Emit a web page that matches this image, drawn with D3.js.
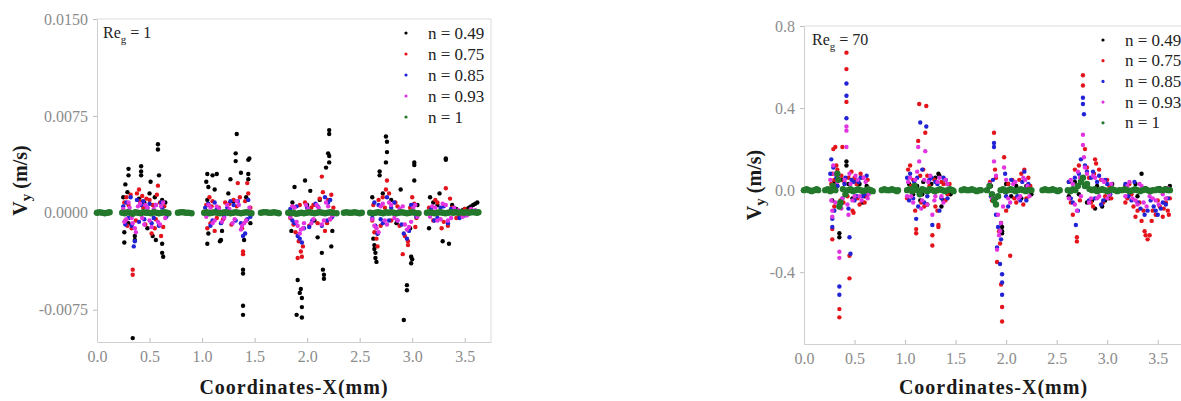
<!DOCTYPE html>
<html>
<head>
<meta charset="utf-8">
<script src="https://cdn.jsdelivr.net/npm/d3@7"></script>
<style>
  body { margin: 0; background: #fff; }
</style>
</head>
<body>
<div id="chart"></div>
<script>
// ---------- data ----------
const legendLabels = ["n = 0.49", "n = 0.75", "n = 0.85", "n = 0.93", "n = 1"];
const xTicks = [0, 0.5, 1, 1.5, 2, 2.5, 3, 3.5];
const yTicksLeft = [-0.0075, 0, 0.0075, 0.015];
const yTicksRight = [-0.4, 0, 0.4, 0.8];

// Re_g = 1  (Vy in m/s)
const leftBlack = [
  [0.27,0.0022],[0.30,0.0029],[0.30,0.0034],[0.29,0.0016],[0.25,0.0012],[0.26,-0.0015],[0.26,-0.0023],[0.30,-0.0008],
  [0.34,-0.0097],[0.36,-0.0018],[0.36,-0.0021],[0.42,0.0036],[0.42,0.0032],[0.42,0.0029],[0.40,0.0011],[0.45,0.0008],
  [0.51,0.0024],[0.50,0.0015],[0.53,-0.0018],[0.56,-0.0021],[0.58,0.0053],[0.58,0.0049],[0.59,0.0029],[0.55,0.0012],
  [0.62,0.0010],[0.62,-0.0024],[0.62,-0.0031],[0.63,-0.0034],[0.65,0.0008],[0.48,-0.0012],
  [1.04,0.0024],[1.05,0.0030],[1.06,0.0020],[1.05,-0.0024],[1.06,-0.0016],[1.05,0.0010],[1.10,0.0029],[1.14,0.0030],
  [1.12,0.0018],[1.17,-0.0022],[1.19,-0.0014],[1.18,-0.0021],[1.27,0.0026],[1.25,0.0015],[1.33,0.0061],[1.32,0.0046],
  [1.32,0.0040],[1.37,0.0031],[1.39,-0.0044],[1.39,-0.0047],[1.39,-0.0072],[1.39,-0.0079],[1.40,-0.0021],[1.45,0.0042],
  [1.44,0.0041],[1.44,0.0030],[1.44,0.0026],[1.42,0.0012],[1.46,-0.0008],[1.30,0.0009],
  [1.85,-0.0014],[1.88,0.0020],[1.86,0.0008],[1.91,-0.0052],[1.90,-0.0079],[1.93,-0.0062],[1.94,-0.0059],[1.95,-0.0066],
  [1.95,-0.0073],[1.95,-0.0081],[1.98,0.0025],[2.03,0.0017],[2.00,0.0006],[2.10,-0.0019],[2.14,-0.0031],[2.15,-0.0044],
  [2.16,-0.0048],[2.16,-0.0051],[2.12,0.0010],[2.18,0.0035],[2.20,0.0046],[2.21,0.0044],[2.21,0.0039],[2.21,0.0064],
  [2.21,0.0061],[2.23,-0.0026],[2.24,-0.0014],[2.07,-0.0006],
  [2.62,0.0012],[2.64,-0.0025],[2.64,-0.0028],[2.65,-0.0031],[2.65,-0.0035],[2.66,-0.0038],[2.63,-0.0020],[2.67,-0.0016],
  [2.69,0.0032],[2.69,0.0029],[2.75,0.0059],[2.76,0.0055],[2.76,0.0047],[2.75,0.0039],[2.72,0.0015],[2.80,0.0010],
  [2.85,-0.0008],[2.89,0.0018],[2.92,-0.0083],[2.95,-0.0056],[2.95,-0.0060],[2.99,-0.0039],[2.99,-0.0034],[3.00,-0.0036],
  [3.02,0.0039],[3.02,0.0037],[3.02,0.0025],[3.05,0.0006],[2.98,-0.0012],
  [3.16,-0.0012],[3.17,0.0012],[3.20,0.0008],[3.26,0.0015],[3.24,0.0006],[3.29,-0.0022],[3.32,0.0042],[3.32,0.0041],
  [3.35,-0.0024],[3.38,0.0006],[3.42,0.0003],[3.45,0.0001],[3.48,0.0002],[3.50,0.0003],[3.52,0.0003],[3.54,0.0004],
  [3.56,0.0005],[3.58,0.0006],[3.60,0.0007],[3.62,0.0008]
];
const leftRed = [
  [0.26,0.0008],[0.28,0.0012],[0.30,0.0006],[0.27,-0.0006],[0.33,-0.0012],[0.34,-0.0044],[0.34,-0.0048],[0.38,0.0015],
  [0.40,0.0018],[0.41,0.0009],[0.44,0.0004],[0.46,-0.0009],[0.50,0.0010],[0.52,-0.0016],[0.55,-0.0012],[0.58,0.0021],
  [0.57,0.0014],[0.61,-0.0018],[0.60,0.0008],[0.64,0.0005],
  [0.29,-0.0010],[0.32,0.0014],[0.37,-0.0006],[0.43,0.0013],[0.47,0.0011],[0.53,0.0006],[0.56,-0.0005],[0.63,-0.0011],
  [1.04,0.0006],[1.07,0.0012],[1.09,0.0005],[1.08,-0.0008],[1.12,-0.0014],[1.16,0.0004],[1.20,-0.0005],[1.26,0.0007],
  [1.30,0.0010],[1.34,0.0023],[1.36,0.0012],[1.38,-0.0012],[1.39,-0.0030],[1.39,-0.0032],[1.43,0.0023],[1.44,0.0015],
  [1.42,-0.0006],[1.46,0.0004],
  [1.05,-0.0012],[1.10,0.0009],[1.14,-0.0004],[1.22,0.0008],[1.28,-0.0009],[1.33,0.0005],[1.41,0.0009],
  [1.84,-0.0004],[1.86,0.0005],[1.89,-0.0015],[1.91,-0.0035],[1.92,-0.0022],[1.94,-0.0030],[1.95,-0.0034],[1.96,-0.0026],
  [1.98,0.0008],[2.02,-0.0010],[2.06,0.0006],[2.10,-0.0008],[2.14,0.0028],[2.15,0.0016],[2.17,-0.0014],[2.20,0.0010],
  [2.22,-0.0005],[2.25,0.0004],
  [1.87,-0.0009],[1.93,0.0006],[2.04,0.0004],[2.12,0.0011],[2.19,-0.0008],[2.23,0.0014],
  [2.62,-0.0006],[2.64,-0.0015],[2.66,-0.0020],[2.68,0.0010],[2.72,0.0012],[2.76,0.0025],[2.75,0.0018],[2.80,-0.0006],
  [2.84,0.0008],[2.88,-0.0010],[2.91,-0.0032],[2.93,-0.0018],[2.96,-0.0025],[2.96,-0.0022],[3.00,0.0012],[3.02,0.0007],
  [3.04,-0.0004],
  [2.63,0.0006],[2.67,-0.0026],[2.70,-0.0010],[2.74,0.0004],[2.78,0.0015],[2.86,0.0005],[2.98,0.0004],[3.03,-0.0011],
  [3.16,0.0004],[3.20,-0.0006],[3.24,0.0008],[3.28,-0.0012],[3.32,0.0019],[3.34,-0.0010],[3.38,0.0004],[3.45,-0.0002],
  [3.55,0.0002],
  [3.22,0.0010],[3.30,-0.0007],[3.36,0.0011],[3.42,-0.0004],[3.50,0.0003],[3.60,0.0001]
];
const leftBlue = [
  [0.25,0.0005],[0.28,0.0008],[0.30,-0.0004],[0.33,-0.0010],[0.35,-0.0026],[0.36,-0.0022],[0.38,0.0010],[0.42,0.0006],
  [0.45,-0.0005],[0.48,0.0004],[0.52,-0.0008],[0.56,0.0006],[0.59,-0.0010],[0.62,0.0004],[0.66,-0.0003],
  [0.27,-0.0009],[0.32,0.0012],[0.40,-0.0007],[0.44,0.0009],[0.50,0.0007],[0.54,-0.0004],[0.61,0.0008],
  [1.03,0.0004],[1.06,0.0007],[1.10,-0.0006],[1.14,0.0003],[1.18,-0.0008],[1.24,0.0004],[1.30,0.0006],[1.34,0.0009],
  [1.37,-0.0008],[1.39,-0.0018],[1.41,-0.0016],[1.44,0.0010],[1.46,-0.0003],
  [1.08,-0.0010],[1.12,0.0008],[1.21,-0.0003],[1.27,0.0009],[1.32,-0.0006],[1.43,-0.0005],
  [1.84,0.0003],[1.88,-0.0008],[1.91,-0.0018],[1.93,-0.0020],[1.95,-0.0023],[1.97,-0.0012],[2.00,0.0004],[2.05,-0.0006],
  [2.10,0.0005],[2.14,-0.0010],[2.17,0.0012],[2.20,0.0008],[2.24,-0.0003],
  [1.86,-0.0006],[1.90,0.0005],[2.02,-0.0011],[2.08,0.0007],[2.19,-0.0006],[2.22,0.0010],
  [2.62,-0.0004],[2.65,-0.0010],[2.68,0.0006],[2.72,-0.0008],[2.76,0.0012],[2.80,0.0004],[2.86,-0.0006],[2.92,-0.0016],
  [2.95,-0.0020],[2.97,-0.0014],[3.01,0.0006],[3.04,-0.0003],
  [2.64,0.0008],[2.67,-0.0016],[2.70,-0.0005],[2.78,-0.0006],[2.83,0.0008],[2.90,-0.0009],[2.99,0.0006],
  [3.18,0.0003],[3.24,-0.0004],[3.30,0.0005],[3.34,-0.0008],[3.40,0.0002],[3.50,-0.0002],
  [3.21,-0.0006],[3.27,0.0004],[3.37,0.0003],[3.45,-0.0004],[3.56,0.0002]
];
const leftMagenta = [
  [0.25,0.0003],[0.28,-0.0005],[0.31,0.0004],[0.34,-0.0008],[0.36,-0.0012],[0.39,0.0005],[0.43,-0.0004],[0.46,0.0006],
  [0.50,-0.0006],[0.54,0.0003],[0.58,-0.0007],[0.61,0.0005],[0.65,-0.0004],
  [0.26,-0.0007],[0.30,0.0008],[0.33,-0.0004],[0.37,-0.0015],[0.41,0.0007],[0.45,-0.0009],[0.48,0.0004],[0.52,-0.0011],
  [0.56,0.0006],[0.60,-0.0009],[0.63,0.0008],
  [1.04,-0.0003],[1.08,0.0004],[1.12,-0.0006],[1.16,0.0003],[1.21,-0.0004],[1.26,0.0003],[1.31,-0.0005],[1.35,0.0006],
  [1.38,-0.0010],[1.42,-0.0006],[1.45,0.0004],
  [1.06,0.0006],[1.10,-0.0008],[1.14,0.0005],[1.19,-0.0007],[1.24,0.0006],[1.29,-0.0008],[1.33,0.0009],[1.37,-0.0013],
  [1.40,-0.0008],
  [1.84,-0.0003],[1.88,0.0004],[1.91,-0.0010],[1.94,-0.0013],[1.97,-0.0008],[2.01,0.0003],[2.06,-0.0005],[2.11,0.0004],
  [2.16,-0.0006],[2.20,0.0005],[2.24,-0.0002],
  [1.86,0.0005],[1.90,-0.0007],[1.93,-0.0016],[1.96,-0.0012],[1.99,0.0006],[2.04,-0.0008],[2.09,0.0006],[2.14,-0.0009],
  [2.18,0.0008],[2.22,-0.0005],
  [2.62,-0.0005],[2.66,-0.0012],[2.70,0.0005],[2.74,-0.0006],[2.78,0.0008],[2.83,-0.0004],[2.88,0.0003],[2.93,-0.0009],
  [2.97,-0.0011],[3.01,0.0004],[3.05,-0.0003],
  [2.64,-0.0010],[2.68,-0.0015],[2.72,0.0007],[2.76,-0.0009],[2.80,0.0006],[2.86,-0.0006],[2.91,0.0005],[2.95,-0.0013],
  [2.99,-0.0007],[3.03,0.0006],
  [3.17,-0.0003],[3.22,0.0004],[3.27,-0.0005],[3.32,0.0006],[3.37,-0.0004],[3.44,0.0002],[3.52,-0.0002],[3.60,0.0002],
  [3.19,0.0005],[3.24,-0.0006],[3.29,0.0007],[3.34,-0.0006],[3.40,0.0004],[3.48,-0.0003],[3.56,0.0003]
];
const leftGreen = [
  [0.000,0.00000],[0.025,0.00004],[0.050,0.00000],[0.075,-0.00004],[0.100,0.00000],[0.120,0.00004],
  [0.240,0.00000],[0.265,-0.00004],[0.290,0.00004],[0.315,0.00000],[0.340,-0.00008],[0.365,0.00004],[0.390,0.00000],
  [0.415,-0.00004],[0.440,0.00004],[0.465,0.00000],[0.490,0.00000],[0.515,-0.00004],[0.540,0.00004],[0.565,0.00000],
  [0.590,-0.00004],[0.615,0.00000],[0.640,0.00004],[0.665,0.00000],[0.680,-0.00004],
  [0.770,0.00000],[0.795,0.00004],[0.820,0.00004],[0.845,0.00000],[0.870,0.00000],[0.900,-0.00004],
  [1.020,0.00000],[1.045,0.00004],[1.070,-0.00004],[1.095,0.00000],[1.120,0.00004],[1.145,0.00000],[1.170,-0.00004],
  [1.195,0.00000],[1.220,0.00004],[1.245,0.00000],[1.270,-0.00004],[1.295,0.00000],[1.320,0.00004],[1.345,0.00000],
  [1.370,-0.00004],[1.395,0.00000],[1.420,0.00004],[1.445,0.00000],[1.470,-0.00004],
  [1.560,0.00000],[1.585,0.00004],[1.610,0.00004],[1.635,0.00000],[1.660,0.00000],[1.685,0.00004],[1.710,0.00000],[1.730,-0.00004],
  [1.820,0.00000],[1.845,-0.00004],[1.870,0.00000],[1.895,-0.00008],[1.920,-0.00004],[1.945,0.00000],[1.970,-0.00004],
  [1.995,0.00000],[2.020,0.00004],[2.045,0.00000],[2.070,-0.00004],[2.095,0.00000],[2.120,0.00004],[2.145,0.00000],
  [2.170,-0.00004],[2.195,0.00000],[2.220,0.00004],[2.245,0.00000],[2.280,-0.00004],
  [2.350,0.00000],[2.375,0.00004],[2.400,0.00000],[2.425,0.00000],[2.450,0.00004],[2.475,0.00000],[2.500,-0.00004],[2.520,0.00000],
  [2.600,0.00000],[2.625,-0.00004],[2.650,0.00000],[2.675,0.00004],[2.700,0.00000],[2.725,-0.00004],[2.750,0.00004],
  [2.775,0.00000],[2.800,0.00004],[2.825,0.00000],[2.850,-0.00004],[2.875,0.00000],[2.900,0.00004],[2.925,0.00000],
  [2.950,-0.00004],[2.975,0.00000],[3.000,0.00004],[3.025,0.00000],[3.060,-0.00004],
  [3.140,0.00000],[3.165,0.00004],[3.190,0.00000],[3.215,-0.00004],[3.240,0.00000],[3.265,0.00004],[3.290,0.00000],
  [3.315,-0.00004],[3.340,0.00000],[3.365,0.00004],[3.390,0.00000],[3.415,0.00004],[3.440,0.00000],[3.465,0.00004],
  [3.490,0.00000],[3.515,0.00004],[3.540,0.00000],[3.565,0.00004],[3.590,0.00004],[3.615,0.00000],[3.630,0.00004]
];

// Re_g = 70  (Vy in m/s)
const rightBlack = [
  [0.28,-0.05],[0.30,0.04],[0.33,0.02],[0.35,-0.21],[0.35,-0.23],[0.38,0.05],[0.42,0.14],[0.42,0.12],[0.44,0.03],
  [0.48,-0.04],[0.52,0.05],[0.55,0.03],[0.58,-0.06],[0.60,-0.03],[0.62,0.02],
  [1.04,0.03],[1.08,-0.02],[1.12,0.02],[1.15,-0.05],[1.17,-0.02],[1.18,0.04],[1.22,-0.07],[1.26,0.03],[1.30,0.06],
  [1.33,0.08],[1.34,0.07],[1.36,-0.08],[1.38,-0.05],[1.40,0.05],[1.42,0.03],[1.45,-0.02],
  [1.85,0.02],[1.90,-0.04],[1.95,-0.16],[1.96,-0.18],[1.96,-0.20],[1.96,-0.21],[2.00,0.03],[2.02,0.03],[2.05,-0.03],
  [2.10,0.02],[2.15,-0.04],[2.20,0.02],[2.25,-0.02],
  [2.62,-0.03],[2.68,0.04],[2.72,-0.02],[2.76,0.06],[2.80,-0.06],[2.85,-0.05],[2.88,-0.09],[2.90,0.02],[2.95,-0.08],
  [2.98,-0.05],[3.02,-0.04],[3.05,0.03],
  [3.18,0.02],[3.22,-0.01],[3.28,0.03],[3.30,-0.03],[3.34,0.08],[3.38,0.01],[3.45,0.00],[3.52,0.01],[3.58,0.01],[3.62,0.02]
];
const rightRed = [
  [0.28,0.08],[0.29,0.20],[0.31,0.21],[0.30,0.05],[0.28,-0.19],[0.28,-0.24],[0.33,0.10],[0.35,-0.58],[0.35,-0.62],
  [0.36,-0.05],[0.38,0.21],[0.40,0.04],[0.42,0.67],[0.42,0.59],[0.42,0.43],[0.44,0.06],[0.45,-0.32],[0.45,-0.43],
  [0.48,-0.10],[0.49,-0.11],[0.50,0.06],[0.53,-0.04],[0.56,0.08],[0.60,-0.06],[0.63,0.05],
  [0.27,0.03],[0.30,-0.08],[0.32,0.12],[0.37,0.07],[0.39,-0.06],[0.43,-0.03],[0.47,0.09],[0.52,0.03],[0.55,-0.07],
  [0.58,0.06],[0.62,-0.03],
  [1.03,0.10],[1.05,0.12],[1.08,0.05],[1.11,-0.19],[1.11,-0.21],[1.13,0.24],[1.14,0.42],[1.20,0.28],[1.21,0.41],
  [1.18,0.10],[1.16,-0.06],[1.22,0.07],[1.27,-0.22],[1.27,-0.27],[1.30,-0.08],[1.33,-0.18],[1.33,-0.17],[1.36,0.04],
  [1.40,-0.05],[1.44,0.03],
  [1.02,-0.04],[1.06,0.02],[1.10,-0.10],[1.15,0.07],[1.19,-0.08],[1.24,0.02],[1.29,0.05],[1.32,-0.10],[1.38,0.03],[1.42,-0.02],
  [1.84,0.04],[1.88,0.28],[1.89,0.10],[1.91,-0.35],[1.93,-0.20],[1.94,-0.26],[1.95,-0.46],[1.96,-0.57],[1.96,-0.64],
  [1.98,0.16],[2.00,-0.10],[2.04,-0.32],[2.06,0.05],[2.10,-0.06],[2.15,0.08],[2.18,0.10],[2.20,-0.04],[2.24,0.02],
  [1.86,-0.05],[1.90,0.06],[2.02,0.03],[2.08,-0.04],[2.13,0.05],[2.17,-0.07],[2.22,0.06],
  [2.64,-0.06],[2.68,0.10],[2.70,-0.23],[2.70,-0.25],[2.72,0.12],[2.76,0.56],[2.76,0.51],[2.78,0.20],[2.82,0.06],
  [2.86,-0.08],[2.88,0.15],[2.89,0.13],[2.92,0.10],[2.96,-0.06],[3.00,0.05],[3.04,-0.04],
  [2.62,0.04],[2.66,-0.12],[2.73,-0.05],[2.80,0.11],[2.84,-0.06],[2.87,0.08],[2.94,0.05],[2.98,-0.03],[3.02,0.02],
  [3.18,-0.06],[3.22,0.03],[3.26,-0.08],[3.30,-0.10],[3.34,-0.15],[3.37,-0.20],[3.38,-0.22],[3.40,-0.24],[3.42,-0.22],
  [3.45,-0.10],[3.48,-0.12],[3.52,-0.08],[3.55,-0.13],[3.58,-0.06],[3.60,-0.10],[3.62,-0.04],
  [3.20,-0.04],[3.24,-0.02],[3.28,-0.13],[3.32,-0.06],[3.36,-0.10],[3.44,-0.15],[3.50,-0.05],[3.56,-0.09],[3.61,-0.12]
];
const rightBlue = [
  [0.27,0.15],[0.29,0.11],[0.28,-0.14],[0.28,-0.18],[0.32,0.06],[0.35,-0.47],[0.35,-0.51],[0.36,-0.07],[0.40,0.03],
  [0.42,0.52],[0.42,0.46],[0.42,0.35],[0.45,-0.23],[0.46,-0.31],[0.47,0.05],[0.50,-0.05],[0.54,0.04],[0.58,-0.03],[0.62,0.07],
  [0.26,0.08],[0.30,-0.10],[0.33,0.02],[0.38,-0.04],[0.41,0.06],[0.44,-0.09],[0.49,0.04],[0.52,-0.03],[0.56,0.06],[0.60,-0.02],
  [1.02,0.06],[1.05,0.08],[1.08,-0.04],[1.11,-0.14],[1.12,0.06],[1.15,0.33],[1.21,0.31],[1.19,-0.06],[1.24,0.05],
  [1.27,-0.17],[1.30,0.04],[1.34,-0.10],[1.38,0.06],[1.42,-0.04],
  [1.04,-0.05],[1.09,0.04],[1.13,-0.08],[1.17,0.10],[1.22,-0.03],[1.26,0.06],[1.32,0.03],[1.36,-0.04],[1.40,0.05],
  [1.85,-0.03],[1.88,0.23],[1.88,0.21],[1.90,-0.12],[1.91,-0.28],[1.94,-0.36],[1.96,-0.41],[1.96,-0.45],[1.96,-0.51],
  [1.99,0.08],[2.02,-0.08],[2.08,0.04],[2.14,-0.05],[2.18,0.09],[2.22,0.03],
  [1.87,0.05],[1.92,-0.18],[1.95,-0.24],[2.00,-0.03],[2.05,0.05],[2.11,-0.03],[2.16,0.04],[2.20,-0.05],
  [2.62,0.04],[2.66,-0.06],[2.69,-0.17],[2.72,0.08],[2.76,0.45],[2.76,0.42],[2.77,0.37],[2.78,0.12],[2.82,-0.05],
  [2.86,0.09],[2.90,0.04],[2.94,-0.07],[2.98,0.05],[3.03,-0.02],
  [2.64,-0.04],[2.68,0.06],[2.71,-0.10],[2.74,0.15],[2.80,0.09],[2.84,0.06],[2.88,-0.04],[2.92,0.07],[2.96,-0.05],[3.00,0.03],
  [3.18,0.03],[3.24,-0.05],[3.30,-0.06],[3.37,-0.12],[3.40,-0.10],[3.46,-0.08],[3.50,-0.12],[3.55,-0.06],[3.60,-0.04],
  [3.21,-0.03],[3.27,0.04],[3.33,-0.09],[3.43,-0.05],[3.48,-0.10],[3.53,-0.09],[3.58,-0.07]
];
const rightMagenta = [
  [0.26,0.05],[0.28,-0.10],[0.28,-0.13],[0.30,0.08],[0.33,0.04],[0.35,-0.30],[0.35,-0.33],[0.38,-0.04],[0.42,0.31],
  [0.42,0.29],[0.42,0.21],[0.44,-0.12],[0.46,0.03],[0.50,-0.03],[0.53,0.05],[0.57,-0.05],[0.61,0.04],[0.64,-0.02],
  [0.27,-0.05],[0.29,0.12],[0.31,-0.06],[0.34,0.07],[0.37,-0.09],[0.40,0.05],[0.43,-0.07],[0.45,0.08],[0.48,-0.05],
  [0.51,0.07],[0.55,-0.03],[0.59,0.06],[0.63,-0.04],
  [1.03,0.04],[1.06,-0.03],[1.10,0.05],[1.13,0.21],[1.14,0.14],[1.17,-0.05],[1.20,0.19],[1.23,0.04],[1.27,-0.12],
  [1.30,-0.03],[1.34,0.06],[1.38,-0.06],[1.42,0.03],
  [1.02,-0.03],[1.05,0.06],[1.08,-0.06],[1.12,0.09],[1.16,-0.09],[1.19,0.05],[1.22,-0.07],[1.25,0.07],[1.29,-0.05],
  [1.32,0.04],[1.36,-0.03],[1.40,0.05],
  [1.84,0.03],[1.88,0.14],[1.89,-0.06],[1.91,-0.29],[1.93,-0.22],[1.95,-0.16],[1.98,0.11],[2.02,-0.04],[2.07,0.03],
  [2.12,-0.04],[2.17,0.06],[2.21,0.02],
  [1.86,-0.04],[1.90,0.07],[1.92,-0.12],[1.94,-0.20],[1.97,-0.08],[2.00,0.05],[2.04,-0.06],[2.09,0.04],[2.14,-0.03],
  [2.19,0.05],[2.23,-0.03],
  [2.62,-0.04],[2.66,0.03],[2.70,-0.10],[2.73,0.06],[2.76,0.27],[2.76,0.22],[2.77,0.16],[2.80,0.08],[2.84,-0.04],
  [2.88,0.06],[2.92,-0.03],[2.97,0.04],[3.02,-0.02],
  [2.64,0.05],[2.68,-0.07],[2.71,0.09],[2.74,-0.03],[2.78,0.11],[2.82,-0.06],[2.86,0.07],[2.90,-0.04],[2.95,0.05],
  [3.00,-0.04],[3.04,0.03],
  [3.18,-0.03],[3.22,0.04],[3.28,-0.05],[3.32,0.03],[3.36,-0.06],[3.42,-0.03],[3.48,-0.05],[3.55,-0.02],[3.60,0.01],
  [3.20,0.02],[3.25,-0.04],[3.30,-0.07],[3.34,0.02],[3.39,-0.08],[3.45,-0.04],[3.51,-0.07],[3.58,-0.04]
];
const rightGreen = [
  [0.000,0.000],[0.025,0.005],[0.050,0.000],[0.075,-0.005],[0.100,0.000],[0.125,0.005],[0.140,0.000],
  [0.210,0.000],[0.235,0.005],[0.260,-0.005],[0.285,0.020],[0.310,0.000],[0.330,0.080],[0.340,0.050],[0.350,-0.080],
  [0.360,-0.060],[0.385,0.005],[0.410,-0.020],[0.435,0.000],[0.460,0.005],[0.485,-0.005],[0.510,0.000],[0.535,0.005],
  [0.560,0.000],[0.585,-0.005],[0.610,0.000],[0.635,0.005],[0.660,0.000],[0.680,-0.005],
  [0.770,0.000],[0.795,0.005],[0.820,0.000],[0.845,0.000],[0.870,0.005],[0.895,0.000],[0.920,-0.005],[0.930,0.000],
  [1.020,0.000],[1.045,0.005],[1.070,-0.005],[1.095,0.020],[1.120,0.000],[1.145,-0.020],[1.170,0.005],[1.195,0.000],
  [1.220,-0.005],[1.245,0.005],[1.270,0.000],[1.295,-0.005],[1.320,0.000],[1.345,0.005],[1.370,0.000],[1.395,-0.005],
  [1.420,0.000],[1.445,0.005],[1.470,0.000],[1.480,-0.005],
  [1.560,0.000],[1.585,0.005],[1.610,0.000],[1.635,0.000],[1.660,0.005],[1.685,0.000],[1.710,-0.005],[1.735,0.000],[1.750,0.000],
  [1.810,0.000],[1.835,0.020],[1.860,-0.020],[1.880,-0.050],[1.900,-0.070],[1.920,-0.030],[1.945,0.000],[1.970,0.005],
  [1.995,-0.005],[2.020,0.000],[2.045,0.005],[2.070,0.000],[2.095,-0.005],[2.120,0.000],[2.145,0.005],[2.170,0.000],
  [2.195,-0.005],[2.220,0.000],[2.250,0.000],
  [2.360,0.000],[2.385,0.005],[2.410,0.000],[2.435,0.000],[2.460,0.005],[2.485,0.000],[2.510,-0.005],[2.530,0.000],
  [2.610,0.000],[2.635,-0.005],[2.660,0.005],[2.685,0.000],[2.710,0.020],[2.740,0.040],[2.760,0.060],[2.780,0.020],
  [2.800,0.030],[2.825,0.005],[2.850,0.000],[2.875,0.005],[2.900,-0.005],[2.925,0.000],[2.950,0.005],[2.975,0.000],
  [3.000,-0.005],[3.025,0.000],[3.050,0.005],[3.075,0.000],[3.100,-0.005],[3.120,0.000],
  [3.150,0.000],[3.175,0.005],[3.200,0.000],[3.225,-0.005],[3.250,0.000],[3.275,0.005],[3.300,0.000],[3.325,-0.005],
  [3.350,0.000],[3.375,0.005],[3.400,0.000],[3.425,-0.005],[3.450,0.000],[3.475,0.000],[3.500,0.005],[3.525,0.000],
  [3.550,0.000],[3.575,0.005],[3.600,0.000],[3.620,0.000]
];

// ---------- drawing ----------
const colors = ["#000000", "#e5131b", "#2222d6", "#e233e0", "#23782c"];
const width = 1181;
const height = 401;

const svg = d3.select("#chart")
    .append("svg")
    .attr("width", width)
    .attr("height", height);

const serif = "'Liberation Serif', 'Times New Roman', serif";

const panels = [
  {
    left: 97, right: 491, top: 19, bottom: 342,
    yDomain: [-0.01, 0.015], yTicks: yTicksLeft, fmt: d => d.toFixed(4),
    series: [leftBlack, leftRed, leftBlue, leftMagenta, leftGreen],
    re: "1", reX: 103, reY: 38,
    legX: 406, legY: 33, legStep: 21,
    yTitleX: 27
  },
  {
    left: 804, right: 1183, top: 26, bottom: 344,
    yDomain: [-0.75, 0.8], yTicks: yTicksRight, fmt: d => d.toFixed(1),
    series: [rightBlack, rightRed, rightBlue, rightMagenta, rightGreen],
    re: "70", reX: 812, reY: 45,
    legX: 1103, legY: 40, legStep: 20.7,
    yTitleX: 761
  }
];

panels.forEach(p => {
  const x = d3.scaleLinear().domain([0, 3.75]).range([p.left, p.right]);
  const y = d3.scaleLinear().domain(p.yDomain).range([p.bottom, p.top]);
  const g = svg.append("g");

  // frame (top + right)
  g.append("path")
      .attr("d", `M${p.left},${p.top}H${p.right}V${p.bottom}`)
      .attr("fill", "none")
      .attr("stroke", "#dcdcdc");

  const xAxis = g.append("g")
      .attr("transform", `translate(0,${p.bottom})`)
      .call(d3.axisBottom(x).tickValues(xTicks).tickSizeInner(-4).tickSizeOuter(0)
        .tickPadding(9).tickFormat(d => d.toFixed(1)));

  const yAxis = g.append("g")
      .attr("transform", `translate(${p.left},0)`)
      .call(d3.axisLeft(y).tickValues(p.yTicks).tickSizeInner(4).tickSizeOuter(0)
        .tickPadding(5).tickFormat(p.fmt));

  [xAxis, yAxis].forEach(a => {
    a.select(".domain").attr("stroke", "#cfcfcf");
    a.selectAll(".tick line").attr("stroke", "#bdbdbd");
    a.selectAll(".tick text")
        .attr("fill", "#8c8c8c")
        .attr("font-family", serif)
        .attr("font-size", 16);
  });

  // points: black, red, blue, magenta, then green on top
  p.series.forEach((data, i) => {
    g.append("g")
      .selectAll("circle")
      .data(data)
      .join("circle")
        .attr("cx", d => x(d[0]))
        .attr("cy", d => y(d[1]))
        .attr("r", i === 4 ? 3.2 : 2.2)
        .attr("fill", colors[i]);
  });

  // Re_g label
  const re = g.append("text")
      .attr("x", p.reX).attr("y", p.reY)
      .attr("font-family", serif).attr("font-size", 16)
      .attr("fill", "#222");
  re.append("tspan").text("Re");
  re.append("tspan").attr("font-size", 11).attr("dy", 5).text("g");
  re.append("tspan").attr("dy", -5).text(" = " + p.re);

  // legend
  legendLabels.forEach((lab, i) => {
    const ly = p.legY + i * p.legStep;
    g.append("circle").attr("cx", p.legX).attr("cy", ly).attr("r", 1.6).attr("fill", colors[i]);
    g.append("text")
        .attr("x", p.legX + 22).attr("y", ly + 5.5)
        .attr("font-family", serif).attr("font-size", 17)
        .attr("fill", "#222")
        .text(lab);
  });

  // axis titles
  g.append("text")
      .attr("x", (p.left + p.right) / 2).attr("y", 394)
      .attr("text-anchor", "middle")
      .attr("font-family", serif).attr("font-size", 20).attr("font-weight", "bold")
      .attr("letter-spacing", 1)
      .attr("fill", "#1a1a1a")
      .text("Coordinates-X(mm)");

  const yt = g.append("text")
      .attr("transform", `translate(${p.yTitleX},${(p.top + p.bottom) / 2}) rotate(-90)`)
      .attr("text-anchor", "middle")
      .attr("font-family", serif).attr("font-size", 20).attr("font-weight", "bold")
      .attr("fill", "#1a1a1a");
  yt.append("tspan").text("V");
  yt.append("tspan").attr("font-size", 15).attr("dy", 4).text("y");
  yt.append("tspan").attr("dy", -4).text(" (m/s)");
});
</script>
</body>
</html>
